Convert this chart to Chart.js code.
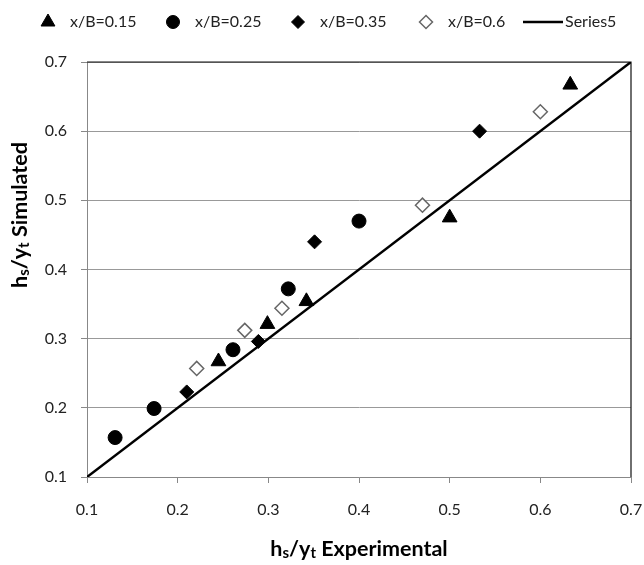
<!DOCTYPE html>
<html>
<head>
<meta charset="utf-8">
<title>hs/yt Simulated vs Experimental</title>
<script src="https://cdn.jsdelivr.net/npm/chart.js@4.4.1/dist/chart.umd.min.js"></script>
<style>
  html, body { margin: 0; padding: 0; background: #fff; }
  #wrap { width: 644px; height: 565px; position: relative; }
</style>
</head>
<body>
<div id="wrap"><canvas id="chart"></canvas></div>
<script>
// ===== DATA =====
const seriesNames = ['x/B=0.15', 'x/B=0.25', 'x/B=0.35', 'x/B=0.6', 'Series5'];

const expB015 = [0.245, 0.299, 0.342, 0.500, 0.633];
const simB015 = [0.267, 0.321, 0.354, 0.475, 0.667];

const expB025 = [0.131, 0.174, 0.261, 0.322, 0.400];
const simB025 = [0.157, 0.199, 0.284, 0.372, 0.470];

const expB035 = [0.210, 0.289, 0.351, 0.533];
const simB035 = [0.223, 0.296, 0.440, 0.600];

const expB06 = [0.221, 0.274, 0.315, 0.470, 0.600];
const simB06 = [0.257, 0.312, 0.344, 0.493, 0.628];

// 1:1 reference line
const lineX = [0.1, 0.7];
const lineY = [0.1, 0.7];

const axisMin = 0.1;
const axisMax = 0.7;
const axisStep = 0.1;

// ===== STYLE =====
const FONT = 'Lato, "Open Sans", sans-serif';
const TICK_COLOR = '#222';
const GRID_COLOR = '#999';

function pts(xs, ys){
  return xs.map((x,i)=>({ x: x, y: ys[i] }));
}

// marker look per series (also used by the legend)
const markers = [
  { pointStyle: 'triangle', radius: 8.5, fill: '#000', stroke: '#000', border: 1 },
  { pointStyle: 'circle',   radius: 7,   fill: '#000', stroke: '#000', border: 1 },
  { pointStyle: 'rectRot',  radius: 7,   fill: '#000', stroke: '#000', border: 1 },
  { pointStyle: 'rectRot',  radius: 7,   fill: '#fff', stroke: '#666', border: 1.5 }
];

// legend row: marker centres, then the line sample
const legendY = 22;
const legendMarkerX = [48, 173, 298, 426];
const legendLine = [523, 563];

const seriesData = [
  pts(expB015, simB015),
  pts(expB025, simB025),
  pts(expB035, simB035),
  pts(expB06, simB06)
];

const datasets = seriesData.map((d,i)=>({
  label: seriesNames[i],
  data: d,
  showLine: false,
  pointStyle: markers[i].pointStyle,
  pointRadius: markers[i].radius,
  backgroundColor: markers[i].fill,
  borderColor: markers[i].stroke,
  pointBorderWidth: markers[i].border
}));

datasets.push({
  label: seriesNames[4],
  data: pts(lineX, lineY),
  showLine: true,
  pointRadius: 0,
  borderColor: '#000',
  borderWidth: 2.5,
  order: -1
});

// ===== TITLES (with subscripts) =====
function drawRuns(ctx, runs, cx, baseY){
  let total = 0;
  runs.forEach(r => {
    ctx.font = r.font;
    r.w = ctx.measureText(r.text).width;
    total += r.w;
  });
  let x = cx - total / 2;
  runs.forEach(r => {
    ctx.font = r.font;
    ctx.fillText(r.text, x, baseY + (r.dy || 0));
    x += r.w;
  });
}

function titleRuns(word){
  const big = 'bold 21.5px ' + FONT;
  const small = 'bold 15px ' + FONT;
  return [
    { text: 'h', font: big },
    { text: 's', font: small, dy: 2 },
    { text: '/y', font: big },
    { text: 't', font: small, dy: 2 },
    { text: ' ' + word, font: big }
  ];
}

// ===== LEGEND =====
function drawLegend(chart){
  const ctx = chart.ctx;
  const y = legendY;

  ctx.save();
  ctx.font = '16px ' + FONT;
  ctx.textAlign = 'left';
  ctx.textBaseline = 'middle';

  legendMarkerX.forEach((x,i)=>{
    const m = markers[i];
    ctx.fillStyle = m.fill;
    ctx.strokeStyle = m.stroke;
    ctx.lineWidth = m.border;
    Chart.helpers.drawPoint(ctx, { pointStyle: m.pointStyle, radius: m.radius - 0.5, borderWidth: m.border, rotation: 0 }, x, y);
    ctx.fillStyle = TICK_COLOR;
    ctx.fillText(seriesNames[i], x + 22, y);
  });

  // line sample
  ctx.strokeStyle = '#000';
  ctx.lineWidth = 2.5;
  ctx.beginPath();
  ctx.moveTo(legendLine[0], y);
  ctx.lineTo(legendLine[1], y);
  ctx.stroke();
  ctx.fillStyle = TICK_COLOR;
  ctx.fillText(seriesNames[4], legendLine[1] + 2, y);
  ctx.restore();
}

const decorPlugin = {
  id: 'decor',
  beforeDatasetsDraw(chart){
    // dark plot-area frame on top and right
    const {ctx, chartArea: a} = chart;
    ctx.save();
    ctx.strokeStyle = '#111';
    ctx.lineWidth = 1.2;
    ctx.beginPath();
    ctx.moveTo(a.left, a.top);
    ctx.lineTo(a.right, a.top);
    ctx.lineTo(a.right, a.bottom);
    ctx.stroke();
    ctx.restore();
  },
  afterDraw(chart){
    const {ctx, chartArea: a} = chart;
    ctx.save();
    ctx.fillStyle = '#000';
    ctx.textAlign = 'left';
    ctx.textBaseline = 'alphabetic';
    // x title
    drawRuns(ctx, titleRuns('Experimental'), (a.left + a.right) / 2, 556);
    // y title, rotated
    ctx.translate(27, 215);
    ctx.rotate(-Math.PI / 2);
    drawRuns(ctx, titleRuns('Simulated'), 0, 0);
    ctx.restore();

    drawLegend(chart);
  }
};

// ===== CHART =====
new Chart(document.getElementById('chart'), {
  type: 'scatter',
  data: { datasets: datasets },
  plugins: [decorPlugin],
  options: {
    responsive: true,
    maintainAspectRatio: false,
    animation: false,
    events: [],
    layout: { padding: { top: 62, right: 0, left: 0, bottom: 0 } },
    plugins: {
      legend: { display: false },
      tooltip: { enabled: false }
    },
    scales: {
      x: {
        type: 'linear',
        min: axisMin,
        max: axisMax,
        afterFit: s => { s.height = 88; s.paddingRight = 13; },
        ticks: {
          stepSize: axisStep,
          padding: 17,
          color: TICK_COLOR,
          font: { family: FONT, size: 16 },
          callback: v => Number(v).toFixed(1)
        },
        grid: { drawOnChartArea: false, drawTicks: true, tickLength: 6, tickColor: '#888' },
        border: { color: '#888', width: 1 }
      },
      y: {
        type: 'linear',
        min: axisMin,
        max: axisMax,
        afterFit: s => { s.width = 87; },
        ticks: {
          stepSize: axisStep,
          padding: 14,
          color: TICK_COLOR,
          font: { family: FONT, size: 16 },
          callback: v => Number(v).toFixed(1)
        },
        grid: { color: GRID_COLOR, lineWidth: 1, tickLength: 6, tickColor: '#888' },
        border: { color: '#888', width: 1 }
      }
    }
  }
});
</script>
</body>
</html>
